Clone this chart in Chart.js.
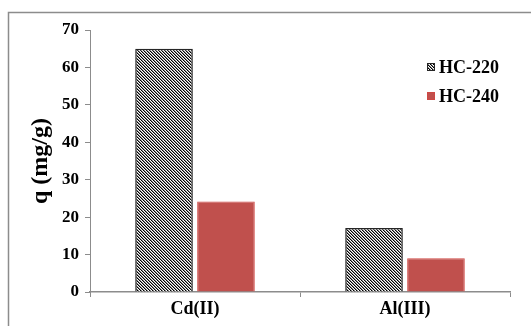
<!DOCTYPE html>
<html>
<head>
<meta charset="utf-8">
<script src="https://cdn.jsdelivr.net/npm/chart.js@4.4.0/dist/chart.umd.min.js"></script>
<style>
  html, body { margin: 0; padding: 0; background: #fff; }
  #wrap { width: 531px; height: 326px; position: relative; }
</style>
</head>
<body>
<div id="wrap"><canvas id="chart" width="531" height="326"></canvas></div>
<script>
// Données
const categories = ['Cd(II)', 'Al(III)'];
const seriesNames = ['HC-220', 'HC-240'];
const hc220 = [65, 17.1];
const hc240 = [24.2, 9];
const yTicks = [0, 10, 20, 30, 40, 50, 60, 70];

const serif = '"Liberation Serif", "Times New Roman", serif';

// Motif hachuré (diagonales noires)
function makeHatch() {
    const c = document.createElement('canvas');
    c.width = 3; c.height = 3;
    const g = c.getContext('2d');
    g.fillStyle = '#ffffff';
    g.fillRect(0, 0, 3, 3);
    for (let y = 0; y < 3; y++) {
        for (let x = 0; x < 3; x++) {
            const d = ((x - y) % 3 + 3) % 3;
            if (d === 0) { g.fillStyle = '#000000'; g.fillRect(x, y, 1, 1); }
            if (d === 1) { g.fillStyle = '#8a8a8a'; g.fillRect(x, y, 1, 1); }
        }
    }
    return g.createPattern(c, 'repeat');
}

const ctx = document.getElementById('chart').getContext('2d');
const hatch = makeHatch();

// Cadre extérieur (bord gauche et haut)
const framePlugin = {
    id: 'frame',
    beforeDraw(chart) {
        const c = chart.ctx;
        c.save();
        c.strokeStyle = '#8c8c8c';
        c.lineWidth = 1.5;
        c.beginPath();
        c.moveTo(8.5, 326);
        c.lineTo(8.5, 12.5);
        c.lineTo(531, 12.5);
        c.stroke();
        c.restore();
    }
};

// Légende dessinée à la main dans la zone du graphique
const legendPlugin = {
    id: 'customLegend',
    afterDraw(chart) {
        const c = chart.ctx;
        c.save();
        c.font = 'bold 18px ' + serif;
        c.textBaseline = 'middle';
        chart.data.datasets.forEach((ds, i) => {
            const y = 67 + i * 29;
            c.fillStyle = ds.backgroundColor;
            c.fillRect(427, y - 4, 8, 8);
            c.strokeStyle = ds.borderColor;
            c.lineWidth = 1;
            c.strokeRect(427.5, y - 3.5, 7, 7);
            c.fillStyle = '#000';
            c.fillText(ds.label, 439, y + 1);
        });
        c.restore();
    }
};

new Chart(ctx, {
    type: 'bar',
    data: {
        labels: categories,
        datasets: [
            {
                label: seriesNames[0],
                data: hc220,
                backgroundColor: hatch,
                borderColor: '#262626',
                borderWidth: 1.5,
                categoryPercentage: 0.59,
                barPercentage: 0.93
            },
            {
                label: seriesNames[1],
                data: hc240,
                backgroundColor: '#c0504d',
                borderColor: '#cf4744',
                borderWidth: 1,
                categoryPercentage: 0.59,
                barPercentage: 0.93
            }
        ]
    },
    options: {
        responsive: false,
        animation: false,
        layout: { padding: { top: 30, right: 21, left: 26, bottom: 0 } },
        plugins: {
            legend: { display: false },
            tooltip: { enabled: false }
        },
        scales: {
            x: {
                grid: {
                    offset: true,
                    drawOnChartArea: false,
                    drawTicks: true,
                    tickLength: 5,
                    color: '#8c8c8c'
                },
                border: { color: '#8c8c8c', width: 1.5 },
                ticks: {
                    color: '#000',
                    font: { family: serif, size: 18, weight: 'bold' },
                    padding: 2
                },
                afterFit(scale) { scale.height = 34; }
            },
            y: {
                min: 0,
                max: 70,
                afterBuildTicks(scale) { scale.ticks = yTicks.map(v => ({ value: v })); },
                grid: {
                    drawOnChartArea: false,
                    drawTicks: true,
                    tickLength: 5,
                    color: '#8c8c8c'
                },
                border: { color: '#8c8c8c', width: 1 },
                ticks: {
                    color: '#000',
                    font: { family: serif, size: 17, weight: 'bold' },
                    padding: 6
                },
                title: {
                    display: true,
                    text: 'q (mg/g)',
                    color: '#000',
                    font: { family: serif, size: 24, weight: 'bold' },
                    padding: { top: 0, bottom: 0 }
                },
                afterFit(scale) { scale.width = 64; }
            }
        }
    },
    plugins: [framePlugin, legendPlugin]
});
</script>
</body>
</html>
